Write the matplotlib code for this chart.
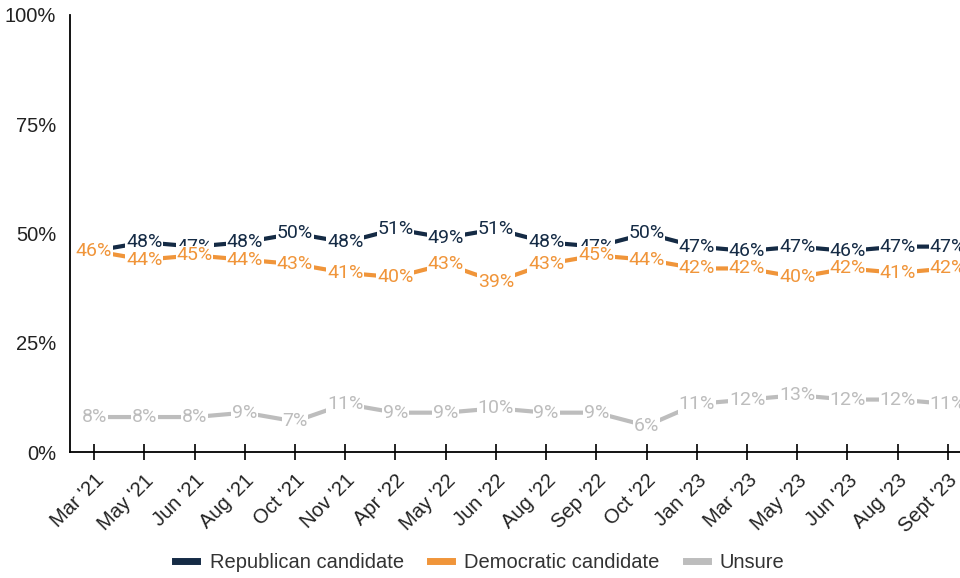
import matplotlib.pyplot as plt
import numpy as np

months = ["Mar '21", "May '21", "Jun '21", "Aug '21", "Oct '21", "Nov '21",
          "Apr '22", "May '22", "Jun '22", "Aug '22", "Sep '22", "Oct '22",
          "Jan '23", "Mar '23", "May '23", "Jun '23", "Aug '23", "Sept '23"]
republican = [46, 48, 47, 48, 50, 48, 51, 49, 51, 48, 47, 50, 47, 46, 47, 46, 47, 47]
democratic = [46, 44, 45, 44, 43, 41, 40, 43, 39, 43, 45, 44, 42, 42, 40, 42, 41, 42]
unsure = [8, 8, 8, 9, 7, 11, 9, 9, 10, 9, 9, 6, 11, 12, 13, 12, 12, 11]

names = ["Republican candidate", "Democratic candidate", "Unsure"]
colors = ["#152b45", "#f0953a", "#bdbdbd"]

plt.rcParams['font.family'] = ['Liberation Sans', 'DejaVu Sans']

fig = plt.figure(figsize=(9.6, 5.78), dpi=100)
ax = fig.add_axes([70/960, 126/578, 890/960, 437/578])

x = np.arange(len(months))
# drawing order: unsure, republican, then democratic on top
series = [unsure, republican, democratic]
cols = [colors[2], colors[0], colors[1]]
labs = [names[2], names[0], names[1]]
for i, (vals, c, lab) in enumerate(zip(series, cols, labs)):
    ax.plot(x, vals, color=c, lw=3, label=lab, zorder=2 + i)
    for xi, v in zip(x, vals):
        ax.text(xi, v, f"{v}%", color=c, fontsize=14, family=['Roboto', 'DejaVu Sans'],
                ha='center', va='center', zorder=2.5 + i,
                bbox=dict(facecolor='white', edgecolor='none', pad=0.5))

ax.set_ylim(0, 100)
ax.set_xlim(-0.48, 17.24)
ax.set_yticks([0, 25, 50, 75, 100])
ax.set_yticklabels([f"{t}%" for t in [0, 25, 50, 75, 100]])
ax.set_xticks(x)
ax.set_xticklabels(months, rotation=45, ha='right', rotation_mode='anchor')
ax.tick_params(axis='y', length=0, labelsize=14.5, pad=10, labelcolor='#222222')
ax.tick_params(axis='x', direction='inout', length=11, width=1.2, labelsize=14.5,
               pad=8, labelcolor='#222222')
for s in ['top', 'right']:
    ax.spines[s].set_visible(False)
for s in ['left', 'bottom']:
    ax.spines[s].set_linewidth(1.3)

handles = [plt.Line2D([], [], color=c, lw=5) for c in colors]
fig.legend(handles, names, loc='center', bbox_to_anchor=(0.5, 15/578),
           ncol=3, frameon=False, fontsize=14.5, handlelength=1.1, columnspacing=1.3,
           handletextpad=0.6, labelcolor='#333333')

fig.savefig('out.png', dpi=100)
